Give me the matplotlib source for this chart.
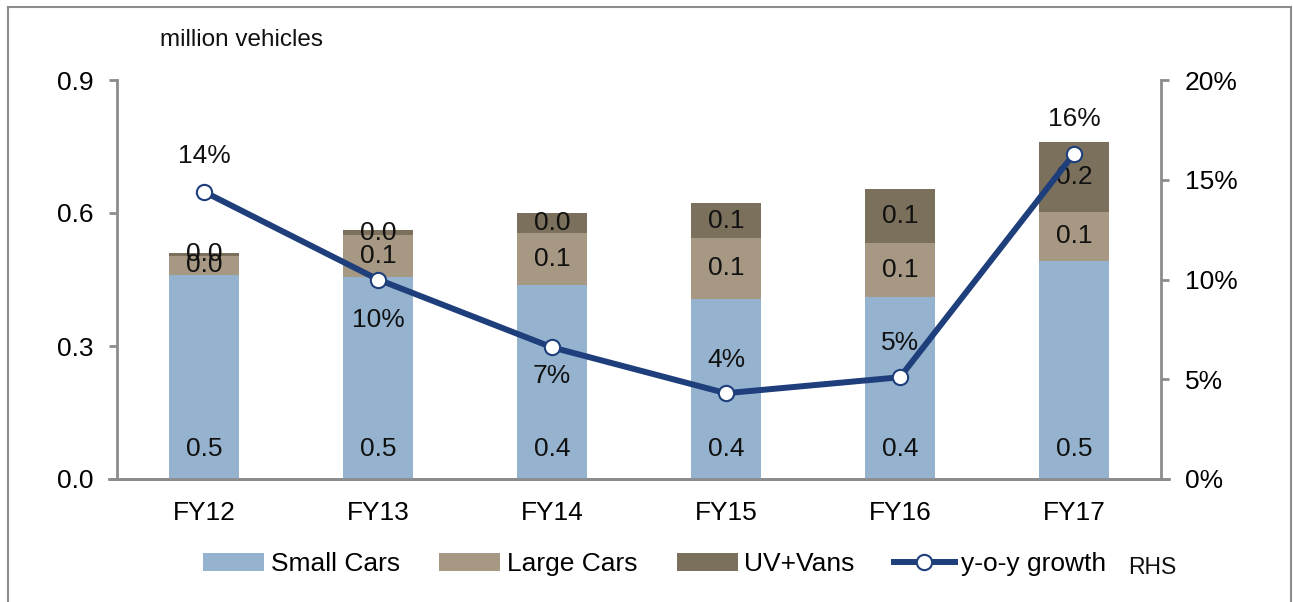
import matplotlib
matplotlib.use("Agg")
import matplotlib.pyplot as plt
from matplotlib.lines import Line2D
import numpy as np

plt.rcParams['font.family'] = ['Liberation Sans', 'DejaVu Sans']

categories = ["FY12", "FY13", "FY14", "FY15", "FY16", "FY17"]
small_cars = [0.460, 0.456, 0.438, 0.406, 0.411, 0.492]
large_cars = [0.044, 0.094, 0.117, 0.138, 0.122, 0.111]
uv_vans = [0.006, 0.011, 0.045, 0.078, 0.121, 0.158]
growth = [14.4, 10.0, 6.6, 4.3, 5.1, 16.3]
growth_label_offsets = [26, -29, -21, 24, 25, 25]  # points, above(+)/below(-)

c_small = "#95B3CF"
c_large = "#A69882"
c_uv = "#7A705C"
c_line = "#1E3F7B"
c_spine = "#8C8C8C"

fig = plt.figure(figsize=(12.93, 6.02), dpi=100)
ax = fig.add_axes([117/1293, 1-479/602, (1161-117)/1293, (479-80)/602])
ax2 = ax.twinx()

x = np.arange(len(categories))
w = 0.4
small = np.array(small_cars)
large = np.array(large_cars)
uv = np.array(uv_vans)

b1 = ax.bar(x, small, w, color=c_small, label="Small Cars", zorder=2)
b2 = ax.bar(x, large, w, bottom=small, color=c_large, label="Large Cars", zorder=2)
b3 = ax.bar(x, uv, w, bottom=small+large, color=c_uv, label="UV+Vans", zorder=2)

fs = 19
for i in range(len(x)):
    ax.text(x[i], 0.068, f"{small[i]:.1f}", ha="center", va="center", fontsize=fs, color="#111111", zorder=3)
    ax.text(x[i], small[i] + large[i]/2, f"{large[i]:.1f}", ha="center", va="center", fontsize=fs, color="#111111", zorder=3)
    ax.text(x[i], small[i] + large[i] + uv[i]/2, f"{uv[i]:.1f}", ha="center", va="center", fontsize=fs, color="#111111", zorder=3)

ax.set_xlim(-0.5, 5.5)
ax.set_ylim(0, 0.9)
ax.set_yticks([0.0, 0.3, 0.6, 0.9])
ax.set_yticklabels(["0.0", "0.3", "0.6", "0.9"])
ax.set_xticks(x)
ax.set_xticklabels(categories)

ax2.plot(x, growth, color=c_line, lw=4.3, marker="o", markersize=11,
         markerfacecolor="white", markeredgecolor=c_line, markeredgewidth=1.5, zorder=5)
ax2.set_ylim(0, 20)
ax2.set_yticks([0, 5, 10, 15, 20])
ax2.set_yticklabels([f"{v}%" for v in [0, 5, 10, 15, 20]])
for i in range(len(x)):
    ax2.annotate(f"{growth[i]:.0f}%", (x[i], growth[i]), xytext=(0, growth_label_offsets[i]),
                 textcoords="offset points", ha="center", va="center", fontsize=fs, color="#111111", zorder=6)

for a in (ax, ax2):
    for s in a.spines.values():
        s.set_visible(False)
ax.spines["left"].set_visible(True)
ax.spines["bottom"].set_visible(True)
ax2.spines["right"].set_visible(True)
for s in (ax.spines["left"], ax.spines["bottom"], ax2.spines["right"]):
    s.set_color(c_spine)
    s.set_linewidth(2)
ax.tick_params(axis="y", direction="out", length=6, width=2, color=c_spine, labelsize=fs, pad=11)
ax.tick_params(axis="x", length=0, labelsize=fs, pad=16)
ax2.tick_params(axis="y", direction="out", length=6, width=2, color=c_spine, labelsize=fs, pad=11)

# bottom spine extended to the tick marks
ax.plot([-0.5 - 8/174, 5.5 + 8/174], [0, 0], color=c_spine, lw=2, clip_on=False, zorder=1)

fig.text(160/1293, 1-40/602, "million vehicles", fontsize=17.5, ha="left", va="center", color="#111111")

line_handle = Line2D([0], [0], color=c_line, lw=4.3, marker="o", markersize=11,
                     markerfacecolor="white", markeredgecolor=c_line, markeredgewidth=1.5)
leg = fig.legend([b1, b2, b3, line_handle], ["Small Cars", "Large Cars", "UV+Vans", "y-o-y growth"],
                 loc="center", bbox_to_anchor=(655/1293, 1-564/602), ncol=4, frameon=False,
                 fontsize=fs, handlelength=2.3, handletextpad=0.25, columnspacing=1.5)
fig.text(1128/1293, 1-567/602, "RHS", fontsize=16.5, ha="left", va="center", color="#111111")

# outer frame
fig.add_artist(Line2D([8/1293, 8/1293], [0, 1-7/602], transform=fig.transFigure, color="#8C8C8C", lw=1.5))
fig.add_artist(Line2D([8/1293, 1291/1293], [1-7/602, 1-7/602], transform=fig.transFigure, color="#8C8C8C", lw=1.5))
fig.add_artist(Line2D([1291/1293, 1291/1293], [0, 1-7/602], transform=fig.transFigure, color="#8C8C8C", lw=1.5))

fig.savefig("out.png", dpi=100)
